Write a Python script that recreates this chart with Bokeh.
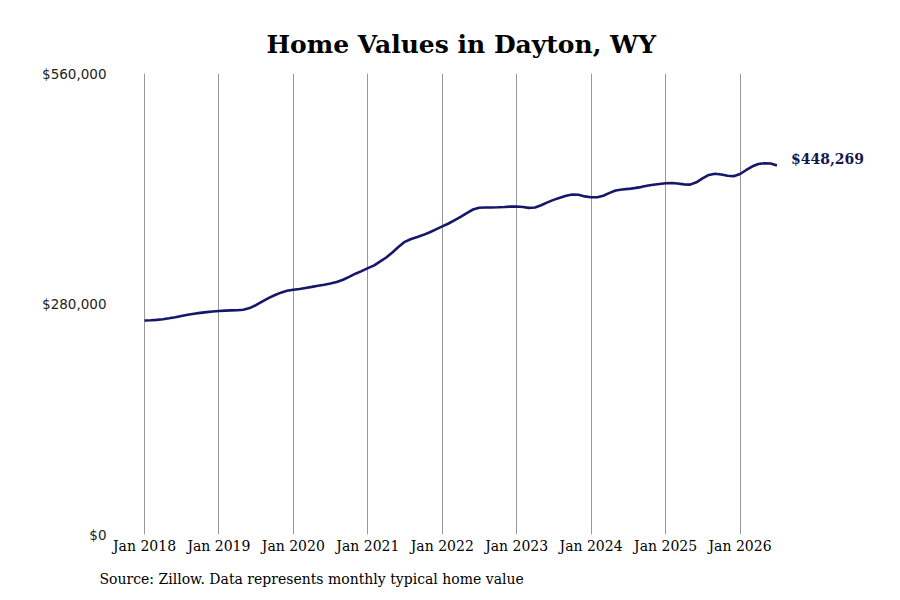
import pandas as pd
from bokeh.plotting import figure
from bokeh.models import FixedTicker, NumeralTickFormatter, Label, Title, Range1d
from bokeh.embed import file_html
from bokeh.resources import INLINE

# monthly typical home value, Jan 2018 - Jul 2026
home_values = [
    260000, 260200, 260700, 261500, 262600, 264000, 265500, 266900, 268100, 269200, 270100, 270900,  # 2018
    271500, 271900, 272200, 272500, 273000, 275000, 278500, 283000, 287200, 290600, 293800, 296000,  # 2019
    297300, 298300, 299500, 300800, 302100, 303400, 304900, 306700, 309500, 313000, 316800, 320000,  # 2020
    323500, 327000, 331500, 336500, 342500, 349500, 355500, 359000, 361500, 364000, 367200, 370700,  # 2021
    374300, 377800, 381500, 385800, 390500, 394800, 396900, 397200, 397300, 397500, 397900, 398300,  # 2022
    398400, 397800, 396800, 397300, 400000, 403500, 406500, 409000, 411500, 413000, 412800, 410700,  # 2023
    409700, 409600, 411500, 415000, 417900, 419000, 419800, 420800, 422000, 423600, 424800, 425800,  # 2024
    426700, 426900, 426300, 425300, 425000, 427800, 432500, 436800, 438300, 437300, 435800, 435300,  # 2025
    437900, 442800, 447000, 450000, 451000, 450700, 448269,                                          # 2026
]
tick_years = [2018, 2019, 2020, 2021, 2022, 2023, 2024, 2025, 2026]
tick_labels = ["Jan 2018", "Jan 2019", "Jan 2020", "Jan 2021", "Jan 2022",
               "Jan 2023", "Jan 2024", "Jan 2025", "Jan 2026"]
y_ticks = [0, 280000, 560000]
last_label = "$448,269"
source_text = "Source: Zillow. Data represents monthly typical home value"

dates = pd.date_range("2018-01-01", periods=len(home_values), freq="MS")
tick_ms = [pd.Timestamp(f"{y}-01-01").value // 10**6 for y in tick_years]

p = figure(width=884, height=598, x_axis_type="datetime",
           output_backend="svg", toolbar_location=None,
           min_border_left=143, min_border_right=12, min_border_top=73, min_border_bottom=64)
p.x_range = Range1d(pd.Timestamp("2017-12-27"), pd.Timestamp("2027-10-13"))
p.y_range = Range1d(0, 560000)

p.title.text = "Home Values in Dayton, WY"
p.title.align = "left"
p.title.offset = 123
p.title.text_font = "DejaVu Serif"
p.title.text_font_size = "25px"
p.title.text_font_style = "bold"
p.title.text_color = "black"
p.title.standoff = 29

p.line(dates, home_values, line_color="#16166b", line_width=2.6)

p.add_layout(Label(x=dates[-1].value / 10**6, y=home_values[-1], text=last_label,
                   x_offset=14, y_offset=6, text_baseline="middle",
                   text_font="DejaVu Serif", text_font_style="bold",
                   text_font_size="14px", text_color="#16164f"))

# axes
p.xaxis.ticker = FixedTicker(ticks=tick_ms)
p.xaxis.major_label_overrides = dict(zip(tick_ms, tick_labels))
p.xaxis.axis_line_color = None
p.xaxis.major_tick_line_color = None
p.xaxis.minor_tick_line_color = None
p.xaxis.major_label_standoff = -3
p.xaxis.major_label_text_font = "DejaVu Serif"
p.xaxis.major_label_text_font_size = "14px"
p.xaxis.major_label_text_color = "black"

p.yaxis.ticker = FixedTicker(ticks=y_ticks)
p.yaxis.formatter = NumeralTickFormatter(format="$0,0")
p.yaxis.axis_line_color = None
p.yaxis.major_tick_line_color = None
p.yaxis.minor_tick_line_color = None
p.yaxis.major_label_standoff = 31
p.yaxis.major_label_text_font = "DejaVu Sans"
p.yaxis.major_label_text_font_size = "13.5px"
p.yaxis.major_label_text_color = "#222222"

p.xgrid.ticker = FixedTicker(ticks=tick_ms)
p.xgrid.grid_line_color = "#999999"
p.xgrid.grid_line_width = 1
p.ygrid.grid_line_color = None
p.outline_line_color = None

# source note below the axis
p.add_layout(Title(text=source_text, align="left", offset=-44, text_font="DejaVu Serif",
                   text_font_size="14px", text_font_style="normal", text_color="black",
                   standoff=24), "below")

open("out.html", "w").write(file_html(p, INLINE))
